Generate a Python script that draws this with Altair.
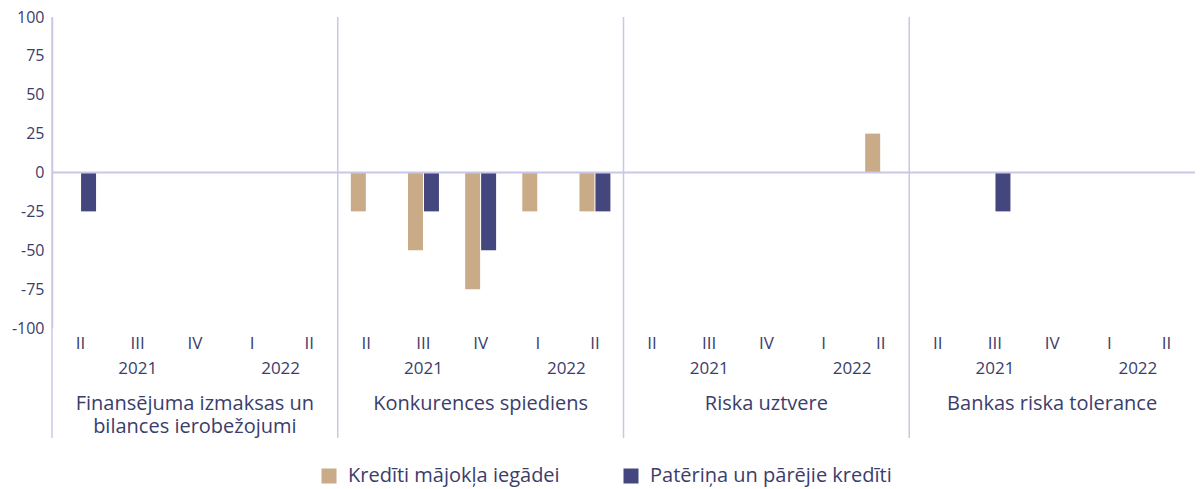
import altair as alt
import pandas as pd

# ---- data ----
panels = [
    "Finansējuma izmaksas un\nbilances ierobežojumi",
    "Konkurences spiediens",
    "Riska uztvere",
    "Bankas riska tolerance",
]
quarters = ["II", "III", "IV", "I", "II"]
years = ["2021", "2022"]
series = ["Kredīti mājokļa iegādei", "Patēriņa un pārējie kredīti"]
housing = [
    [0, 0, 0, 0, 0],
    [-25, -50, -75, -25, -25],
    [0, 0, 0, 0, 25],
    [0, 0, 0, 0, 0],
]
consumer = [
    [-25, 0, 0, 0, 0],
    [0, -25, -50, 0, -25],
    [0, 0, 0, 0, 0],
    [0, -25, 0, 0, 0],
]
yticks = [-100, -75, -50, -25, 0, 25, 50, 75, 100]
colors = ["#C9AB87", "#44477D"]

TEXT = "#3b3d6b"
LINE = "#C8C8E6"
FONT = "Open Sans"
W = 1143
H = 311
BAND = W / 20

keys = [f"p{p}q{q}" for p in range(4) for q in range(5)]

rows = []
for p in range(4):
    for q in range(5):
        rows.append({"key": f"p{p}q{q}", "series": series[0], "value": housing[p][q]})
        rows.append({"key": f"p{p}q{q}", "series": series[1], "value": consumer[p][q]})
bars_df = pd.DataFrame(rows)

q_df = pd.DataFrame([{"key": f"p{p}q{q}", "label": quarters[q]} for p in range(4) for q in range(5)])
y21_df = pd.DataFrame([{"key": f"p{p}q1", "label": years[0]} for p in range(4)])
y22_df = pd.DataFrame([{"key": f"p{p}q3", "label": years[1]} for p in range(4)])
t_df = pd.DataFrame([{"key": f"p{p}q2", "label": panels[p]} for p in range(4)])
sep_df = pd.DataFrame([{"key": f"p{p}q0"} for p in range(1, 4)])

xscale = alt.Scale(domain=keys, paddingInner=0, paddingOuter=0)
xenc = alt.X("key:N", scale=xscale, axis=None)
yscale = alt.Scale(domain=[-100, 100], nice=False, zero=False)
yaxis = alt.Axis(values=yticks, title=None, grid=False, ticks=False, labelFontSize=16,
                 labelColor=TEXT, labelFont=FONT, labelPadding=8, labelOverlap=False,
                 labelFlush=False, labelExpr="toString(datum.value)",
                 domainColor=LINE, domainWidth=1.5)

bars = alt.Chart(bars_df).mark_bar().encode(
    x=xenc,
    xOffset=alt.XOffset("series:N", sort=series,
                        scale=alt.Scale(paddingInner=0.0625, paddingOuter=0.82)),
    y=alt.Y("value:Q", scale=yscale, axis=yaxis),
    color=alt.Color("series:N", sort=series,
                    scale=alt.Scale(domain=series, range=colors),
                    legend=alt.Legend(title=None, orient="none", legendX=267, legendY=449,
                                      direction="horizontal", symbolType="square",
                                      symbolSize=225, symbolStrokeWidth=0,
                                      labelFontSize=20, labelFont=FONT, labelColor=TEXT,
                                      labelOffset=9, columnPadding=61, labelLimit=500)),
)

zero = alt.Chart(pd.DataFrame({"value": [0]})).mark_rule(color=LINE, strokeWidth=2).encode(
    y=alt.Y("value:Q", scale=yscale, axis=yaxis), x=alt.value(0), x2=alt.value(W))

left = alt.Chart(pd.DataFrame({"v": [0]})).mark_rule(color=LINE, strokeWidth=1.5).encode(
    x=alt.value(0), y=alt.value(0), y2=alt.value(421))

seps = alt.Chart(sep_df).mark_rule(color=LINE, strokeWidth=1.5).encode(
    x=alt.X("key:N", scale=xscale, axis=None, bandPosition=0),
    y=alt.value(0), y2=alt.value(421))

qlab = alt.Chart(q_df).mark_text(fontSize=17, font=FONT, color=TEXT, baseline="middle").encode(
    x=xenc, y=alt.value(327), text="label:N")
y21 = alt.Chart(y21_df).mark_text(fontSize=17, font=FONT, color=TEXT, baseline="middle").encode(
    x=xenc, y=alt.value(352), text="label:N")
y22 = alt.Chart(y22_df).mark_text(fontSize=17, font=FONT, color=TEXT, baseline="middle",
                                  dx=BAND / 2).encode(
    x=xenc, y=alt.value(352), text="label:N")
titles = alt.Chart(t_df).mark_text(fontSize=20, font=FONT, color=TEXT, baseline="top",
                                   lineBreak="\n", lineHeight=23).encode(
    x=xenc, y=alt.value(377), text="label:N")

chart = alt.layer(bars, zero, left, seps, qlab, y21, y22, titles).properties(
    width=W, height=H,
    autosize=alt.AutoSizeParams(type="none"),
    padding={"left": 44, "top": 9, "right": 0, "bottom": 159},
).configure_view(stroke=None)

chart.save("out.html", embed_options={"renderer": "svg", "actions": False})
